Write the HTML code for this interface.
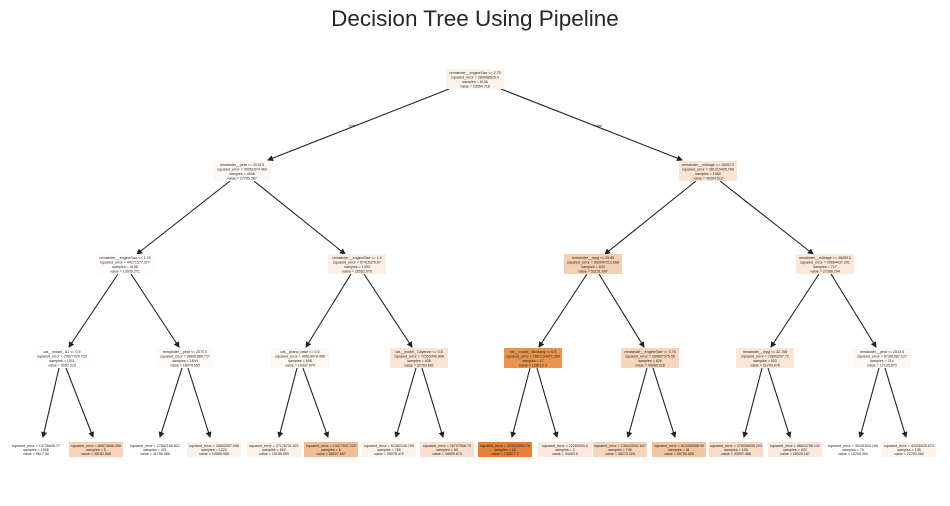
<!DOCTYPE html>
<html><head><meta charset="utf-8"><style>
html,body{margin:0;padding:0;background:#fff;}
svg{display:block;font-family:"Liberation Sans",sans-serif;}
.t{font-size:3.6px;fill:#222;text-anchor:middle;}
line{stroke:#222;stroke-width:1.1;}
</style></head><body>
<svg width="950" height="506" viewBox="0 0 950 506" xmlns="http://www.w3.org/2000/svg">
<defs><marker id="a" markerWidth="6" markerHeight="6" refX="5" refY="3" orient="auto" markerUnits="userSpaceOnUse"><path d="M0,0 L6,3 L0,6 z" fill="#222"/></marker></defs>
<text x="475" y="26" font-size="22.5" fill="#262626" text-anchor="middle">Decision Tree Using Pipeline</text>
<g marker-end="url(#a)">
<line x1="449" y1="89" x2="268" y2="160"/><line x1="501" y1="89" x2="682" y2="160"/>
<line x1="230" y1="181" x2="137" y2="254"/><line x1="254" y1="181" x2="345" y2="254"/>
<line x1="696" y1="181" x2="605" y2="254"/><line x1="720" y1="181" x2="813" y2="254"/>
<line x1="118" y1="274" x2="69" y2="347"/><line x1="131" y1="274" x2="179" y2="347"/>
<line x1="351" y1="274" x2="306" y2="347"/><line x1="364" y1="274" x2="412" y2="347"/>
<line x1="587" y1="274" x2="539" y2="347"/><line x1="599" y1="274" x2="644" y2="347"/>
<line x1="819" y1="274" x2="771" y2="347"/><line x1="831" y1="274" x2="876" y2="347"/>
<line x1="59" y1="368" x2="43" y2="437"/><line x1="66" y1="368" x2="93" y2="437"/>
<line x1="182" y1="368" x2="160" y2="437"/><line x1="188" y1="368" x2="210" y2="437"/>
<line x1="297" y1="368" x2="279" y2="437"/><line x1="303" y1="368" x2="328" y2="437"/>
<line x1="416" y1="368" x2="396" y2="437"/><line x1="422" y1="368" x2="443" y2="437"/>
<line x1="530" y1="368" x2="512" y2="437"/><line x1="537" y1="368" x2="557" y2="437"/>
<line x1="647" y1="368" x2="628" y2="437"/><line x1="653" y1="368" x2="675" y2="437"/>
<line x1="762" y1="368" x2="744" y2="437"/><line x1="768" y1="368" x2="790" y2="437"/>
<line x1="879" y1="368" x2="860" y2="437"/><line x1="885" y1="368" x2="906" y2="437"/>
</g>
<text x="352" y="127" font-size="3.5" fill="#222" text-anchor="middle">True</text>
<text x="598" y="127" font-size="3.5" fill="#222" text-anchor="middle">False</text>

<rect x="446" y="69" width="58" height="20" fill="#fdf2ea"/>
<text class="t" x="475" y="74">remainder__engineSize &lt;= 2.75</text><text class="t" x="475" y="78.5">squared_error = 289088525.4</text><text class="t" x="475" y="83">samples = 6106</text><text class="t" x="475" y="87.5">value = 23554.718</text>

<rect x="213" y="161" width="58" height="20" fill="#fef8f4"/>
<text class="t" x="242" y="166">remainder__year &lt;= 2019.5</text><text class="t" x="242" y="170.5">squared_error = 95951874.469</text><text class="t" x="242" y="175">samples = 4546</text><text class="t" x="242" y="179.5">value = 17793.387</text>
<rect x="679" y="161" width="58" height="20" fill="#fae4d4"/>
<text class="t" x="708" y="166">remainder__mileage &lt;= 19057.0</text><text class="t" x="708" y="170.5">squared_error = 381215405.789</text><text class="t" x="708" y="175">samples = 1560</text><text class="t" x="708" y="179.5">value = 40304.513</text>

<rect x="96" y="254" width="58" height="20" fill="#fffdfc"/>
<text class="t" x="125" y="259">remainder__engineSize &lt;= 1.75</text><text class="t" x="125" y="263.5">squared_error = 44271577.377</text><text class="t" x="125" y="268">samples = 3156</text><text class="t" x="125" y="272.5">value = 13935.271</text>
<rect x="328" y="254" width="58" height="20" fill="#fcefe5"/>
<text class="t" x="357" y="259">remainder__engineSize &lt;= 1.9</text><text class="t" x="357" y="263.5">squared_error = 97415379.67</text><text class="t" x="357" y="268">samples = 1390</text><text class="t" x="357" y="272.5">value = 26552.076</text>
<rect x="564" y="254" width="58" height="20" fill="#f5cfb1"/>
<text class="t" x="593" y="259">remainder__mpg &lt;= 25.85</text><text class="t" x="593" y="263.5">squared_error = 509047213.668</text><text class="t" x="593" y="268">samples = 843</text><text class="t" x="593" y="272.5">value = 51131.647</text>
<rect x="796" y="254" width="58" height="20" fill="#fbe8da"/>
<text class="t" x="825" y="259">remainder__mileage &lt;= 46289.5</text><text class="t" x="825" y="263.5">squared_error = 90664437.201</text><text class="t" x="825" y="268">samples = 717</text><text class="t" x="825" y="272.5">value = 27396.294</text>

<rect x="33" y="348" width="58" height="20" fill="#fffefd"/>
<text class="t" x="62" y="353">cat__model_ A1 &lt;= 0.5</text><text class="t" x="62" y="357.5">squared_error = 20677020.729</text><text class="t" x="62" y="362">samples = 1511</text><text class="t" x="62" y="366.5">value = 9552.323</text>
<rect x="156" y="348" width="58" height="20" fill="#fefaf6"/>
<text class="t" x="185" y="353">remainder__year &lt;= 2070.0</text><text class="t" x="185" y="357.5">squared_error = 38691886.727</text><text class="t" x="185" y="362">samples = 1644</text><text class="t" x="185" y="366.5">value = 18074.655</text>
<rect x="271" y="348" width="58" height="20" fill="#fef7f2"/>
<text class="t" x="300" y="353">cat__brand_base &lt;= 0.5</text><text class="t" x="300" y="357.5">squared_error = 49614978.496</text><text class="t" x="300" y="362">samples = 608</text><text class="t" x="300" y="366.5">value = 19337.974</text>
<rect x="390" y="348" width="58" height="20" fill="#fbe4d3"/>
<text class="t" x="419" y="353">cat__model_ Cayenne &lt;= 0.5</text><text class="t" x="419" y="357.5">squared_error = 72355440.898</text><text class="t" x="419" y="362">samples = 838</text><text class="t" x="419" y="366.5">value = 37769.661</text>
<rect x="504" y="348" width="58" height="20" fill="#e9944f"/>
<text class="t" x="533" y="353">cat__model_ Mustang &lt;= 0.5</text><text class="t" x="533" y="357.5">squared_error = 1867134471.259</text><text class="t" x="533" y="362">samples = 17</text><text class="t" x="533" y="366.5">value = 128713.3</text>
<rect x="621" y="348" width="58" height="20" fill="#f7d6bd"/>
<text class="t" x="650" y="353">remainder__engineSize &lt;= 3.75</text><text class="t" x="650" y="357.5">squared_error = 264657375.55</text><text class="t" x="650" y="362">samples = 826</text><text class="t" x="650" y="366.5">value = 49985.026</text>
<rect x="736" y="348" width="58" height="20" fill="#fbe6d8"/>
<text class="t" x="765" y="353">remainder__mpg &lt;= 32.765</text><text class="t" x="765" y="357.5">squared_error = 73893297.72</text><text class="t" x="765" y="362">samples = 503</text><text class="t" x="765" y="366.5">value = 31793.078</text>
<rect x="853" y="348" width="58" height="20" fill="#fef8f4"/>
<text class="t" x="882" y="353">remainder__year &lt;= 2013.0</text><text class="t" x="882" y="357.5">squared_error = 67361987.127</text><text class="t" x="882" y="362">samples = 214</text><text class="t" x="882" y="366.5">value = 17135.679</text>

<g>
<rect x="9" y="442" width="54" height="15" fill="#ffffff"/>
<rect x="69" y="442" width="54" height="15" fill="#f6d3b8"/>
<rect x="128" y="442" width="54" height="15" fill="#fffefe"/>
<rect x="187" y="442" width="54" height="15" fill="#fdf0e6"/>
<rect x="247" y="442" width="54" height="15" fill="#fdf0e7"/>
<rect x="304" y="442" width="54" height="15" fill="#f3bd93"/>
<rect x="362" y="442" width="54" height="15" fill="#fdf2ea"/>
<rect x="420" y="442" width="54" height="15" fill="#f9dfcc"/>
<rect x="478" y="442" width="54" height="15" fill="#e58139"/>
<rect x="538" y="442" width="54" height="15" fill="#fce9dc"/>
<rect x="593" y="442" width="54" height="15" fill="#f6d4ba"/>
<rect x="652" y="442" width="54" height="15" fill="#f4c49f"/>
<rect x="709" y="442" width="54" height="15" fill="#f8dbc6"/>
<rect x="768" y="442" width="54" height="15" fill="#fbe9dd"/>
<rect x="826" y="442" width="54" height="15" fill="#ffffff"/>
<rect x="882" y="442" width="54" height="15" fill="#fdf3ec"/>
</g>
<g>
<text class="t" x="36" y="447">squared_error = 14726846.77</text><text class="t" x="36" y="451">samples = 1506</text><text class="t" x="36" y="455">value = 9617.38</text>
<text class="t" x="96" y="447">squared_error = 88574686.358</text><text class="t" x="96" y="451">samples = 5</text><text class="t" x="96" y="455">value = 45152.566</text>
<text class="t" x="155" y="447">squared_error = 27652156.821</text><text class="t" x="155" y="451">samples = 421</text><text class="t" x="155" y="455">value = 11755.386</text>
<text class="t" x="214" y="447">squared_error = 26592597.598</text><text class="t" x="214" y="451">samples = 1223</text><text class="t" x="214" y="455">value = 19586.986</text>
<text class="t" x="274" y="447">squared_error = 27176731.621</text><text class="t" x="274" y="451">samples = 602</text><text class="t" x="274" y="455">value = 19155.509</text>
<text class="t" x="331" y="447">squared_error = 13477647.222</text><text class="t" x="331" y="451">samples = 6</text><text class="t" x="331" y="455">value = 68027.667</text>
<text class="t" x="389" y="447">squared_error = 61362146.799</text><text class="t" x="389" y="451">samples = 755</text><text class="t" x="389" y="455">value = 35078.475</text>
<text class="t" x="447" y="447">squared_error = 26707508.79</text><text class="t" x="447" y="451">samples = 83</text><text class="t" x="447" y="455">value = 44599.673</text>
<text class="t" x="505" y="447">squared_error = 213412063.76</text><text class="t" x="505" y="451">samples = 15</text><text class="t" x="505" y="455">value = 136577.2</text>
<text class="t" x="565" y="447">squared_error = 12250000.0</text><text class="t" x="565" y="451">samples = 2</text><text class="t" x="565" y="455">value = 34000.0</text>
<text class="t" x="620" y="447">squared_error = 136443062.647</text><text class="t" x="620" y="451">samples = 745</text><text class="t" x="620" y="455">value = 48273.328</text>
<text class="t" x="679" y="447">squared_error = 613458988.99</text><text class="t" x="679" y="451">samples = 81</text><text class="t" x="679" y="455">value = 65766.605</text>
<text class="t" x="736" y="447">squared_error = 276936835.203</text><text class="t" x="736" y="451">samples = 100</text><text class="t" x="736" y="455">value = 43997.486</text>
<text class="t" x="795" y="447">squared_error = 58624796.132</text><text class="t" x="795" y="451">samples = 402</text><text class="t" x="795" y="455">value = 28926.187</text>
<text class="t" x="853" y="447">squared_error = 30191593.166</text><text class="t" x="853" y="451">samples = 79</text><text class="t" x="853" y="455">value = 10299.354</text>
<text class="t" x="909" y="447">squared_error = 44326029.673</text><text class="t" x="909" y="451">samples = 135</text><text class="t" x="909" y="455">value = 21293.062</text>
</g>
</svg>
</body></html>
